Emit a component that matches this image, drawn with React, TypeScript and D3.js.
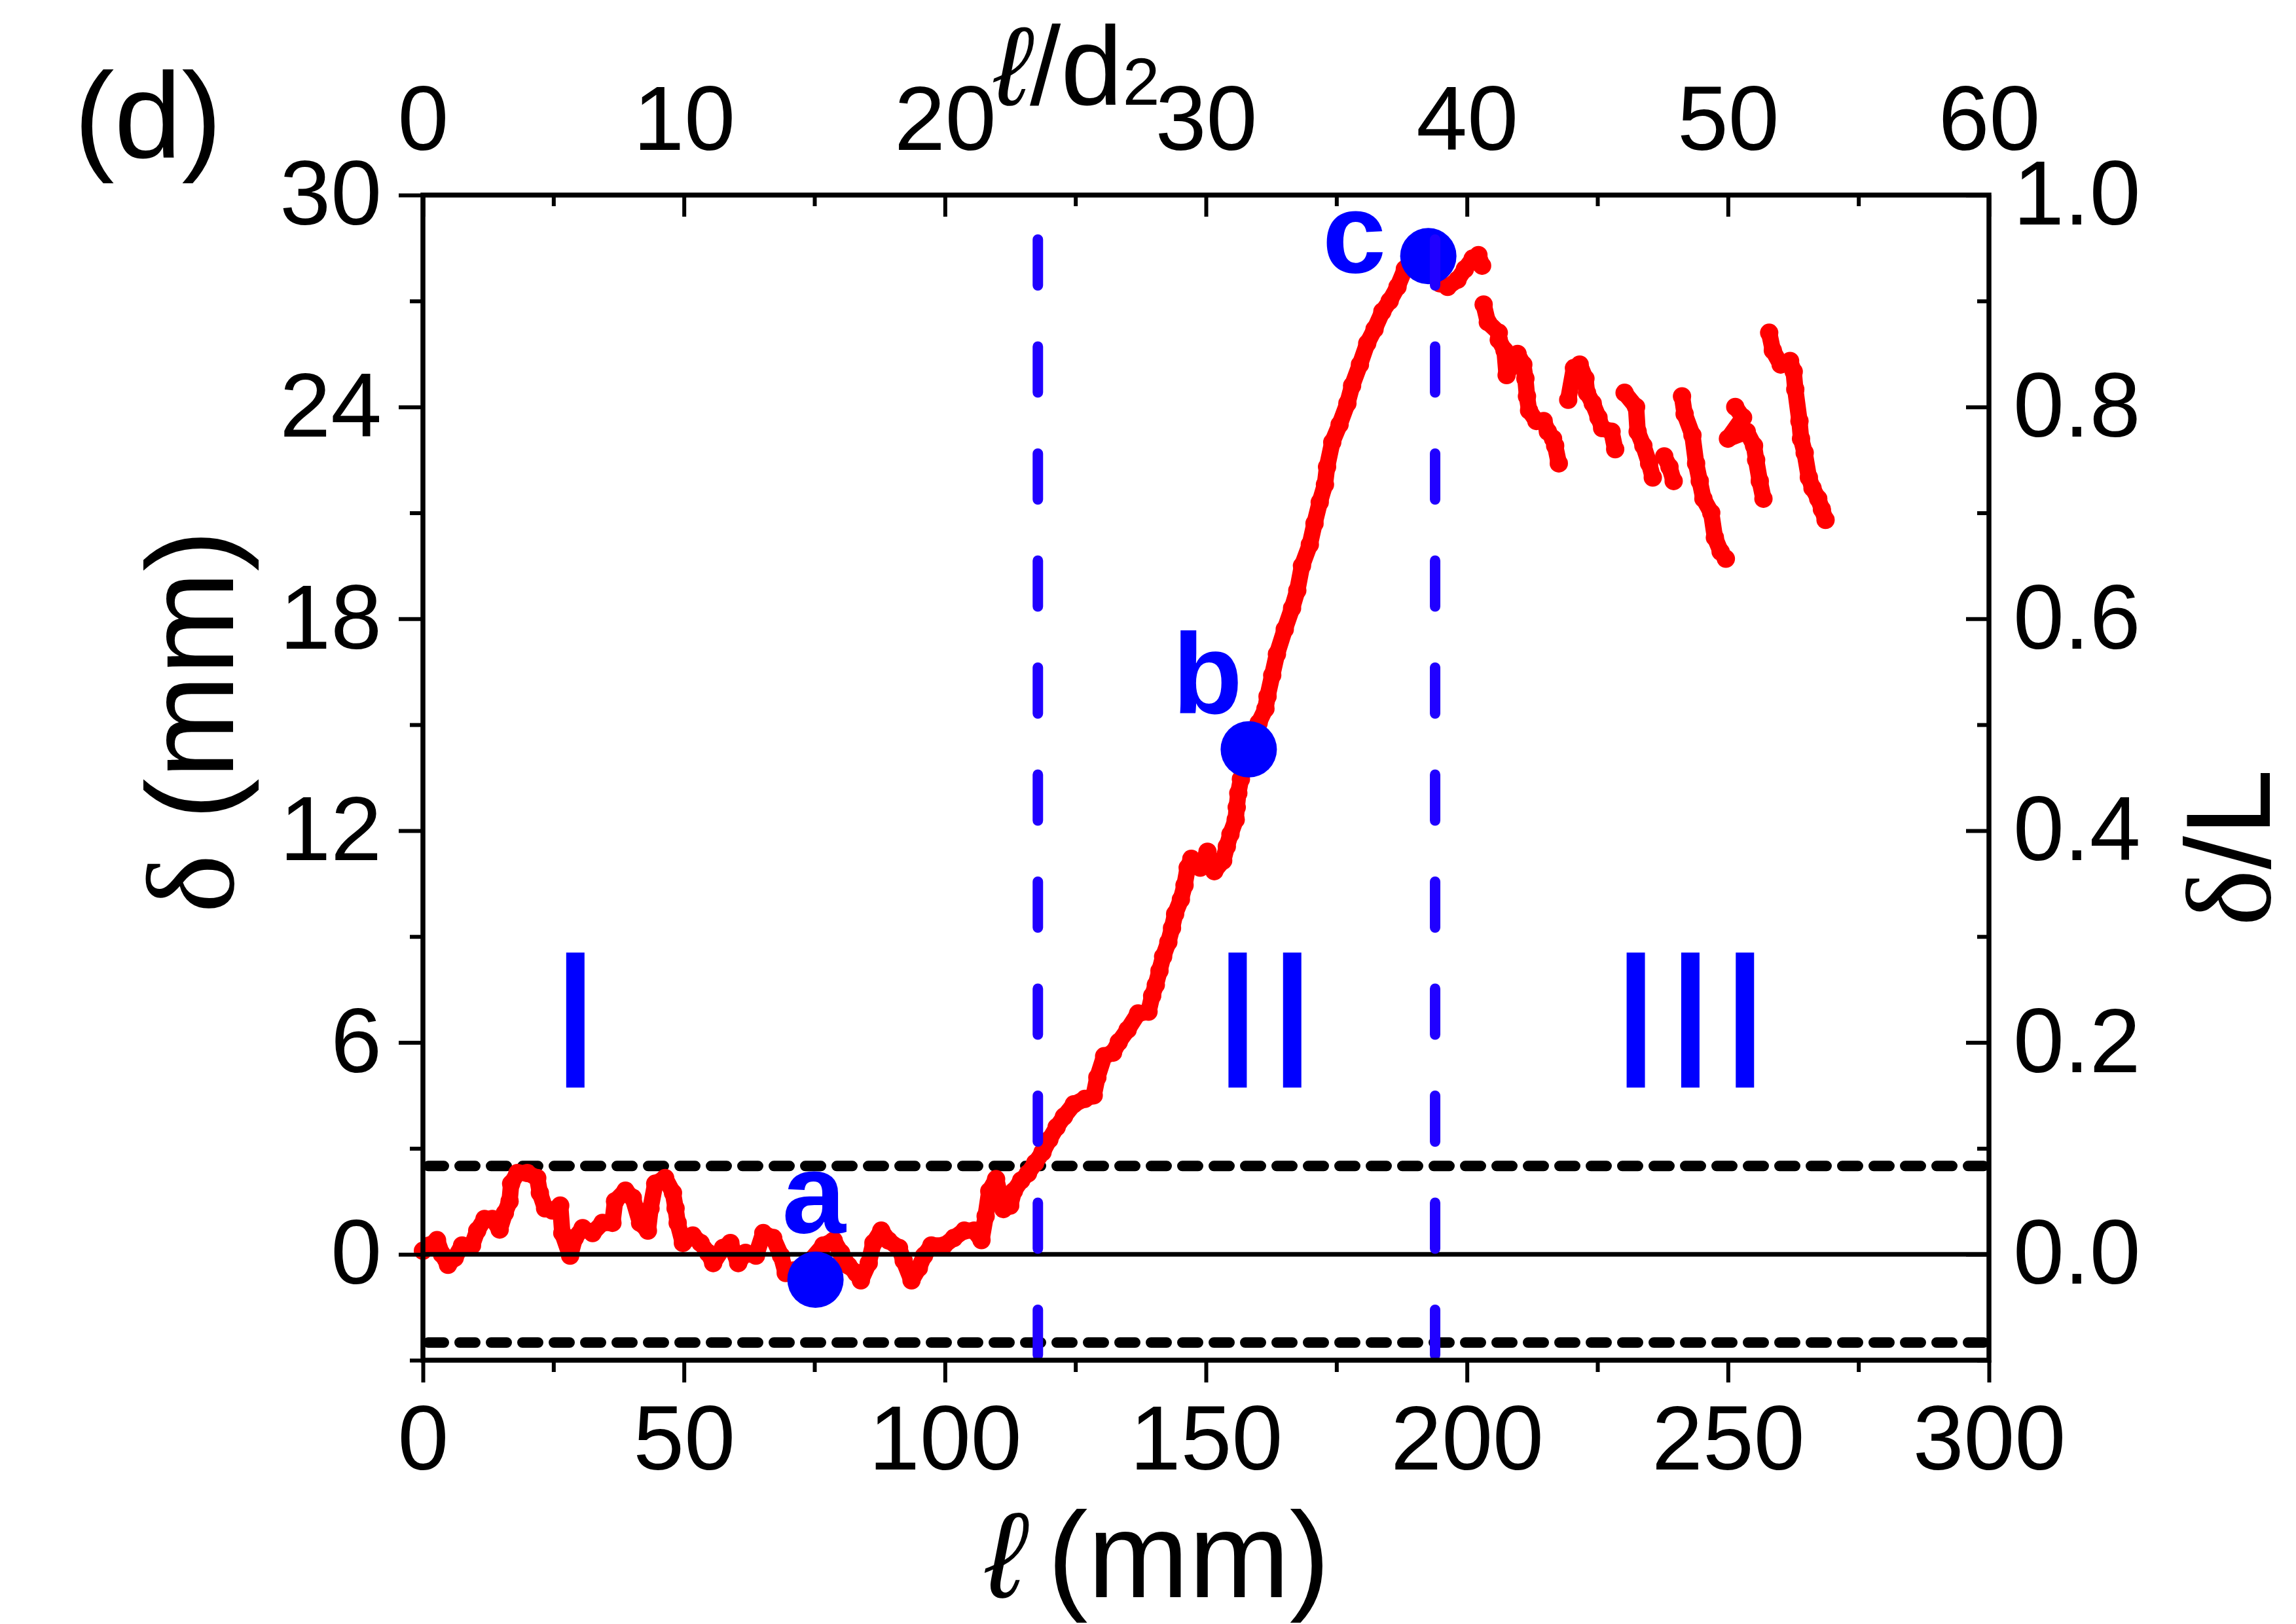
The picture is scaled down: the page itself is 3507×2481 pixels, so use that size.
import { useEffect, useRef } from 'react';
import * as d3 from 'd3';

type Pt = [number, number];

// ℓ (mm) vs δ (mm)
const mainCurve: Pt[] = [
  [0, 0.1], [1.25, 0.25], [2.7, 0.4], [3.65, 0.0], [4.8, -0.3], [6.1, -0.1], [7.5, 0.25], [9.4, 0.25],
  [10.4, 0.67], [11.8, 1.0], [13.3, 1.0], [14.7, 0.7], [15.7, 1.17], [16.6, 1.5], [16.9, 2.0], [18.1, 2.3],
  [20.0, 2.3], [21.9, 2.16], [22.4, 1.74], [23.4, 1.3], [24.8, 1.24], [26.3, 1.38], [26.7, 0.6], [28.2, -0.04],
  [29.1, 0.46], [30.6, 0.74], [32.5, 0.6], [34.4, 0.89], [36.3, 0.89], [36.8, 1.5], [38.8, 1.8], [40.2, 1.6],
  [41.6, 0.89], [43.1, 0.67], [43.6, 1.3], [44.5, 2.0], [46.4, 2.16], [47.9, 1.74], [48.4, 1.3], [48.8, 0.89],
  [49.8, 0.32], [51.7, 0.53], [53.2, 0.32], [54.6, 0.04], [55.6, -0.25], [57.5, 0.18], [58.9, 0.32], [60.4, -0.25],
  [61.8, 0.04], [63.8, -0.04], [65.2, 0.6], [67.1, 0.46], [68.6, -0.04], [69.5, -0.53], [71.0, -0.46], [73.8, -0.25],
  [76.7, 0.25], [78.7, 0.39], [80.1, 0.04], [81.5, -0.32], [83.0, -0.53], [83.9, -0.74], [85.4, -0.25], [86.3, 0.32],
  [87.8, 0.67], [89.2, 0.39], [91.2, 0.18], [92.1, -0.18], [93.6, -0.74], [95.0, -0.39], [96.0, -0.04], [97.4, 0.25],
  [99.8, 0.25], [101.7, 0.46], [103.7, 0.67], [105.6, 0.67], [107.0, 0.4], [107.8, 1.08], [108.5, 1.79], [109.8, 2.13],
  [111.2, 1.28], [112.5, 1.38], [113.2, 1.79], [114.6, 2.09], [115.9, 2.29], [117.3, 2.59], [118.7, 2.89], [120.0, 3.25],
  [121.4, 3.6], [122.8, 3.9], [124.7, 4.25], [126.8, 4.4], [128.5, 4.5], [129.2, 5.01], [130.5, 5.61], [132.2, 5.71],
  [133.3, 6.01], [135.0, 6.36], [137.0, 6.82], [139.0, 6.87], [139.7, 7.32], [140.4, 7.63], [141.1, 8.03], [141.8, 8.43],
  [142.8, 8.84], [143.5, 9.24], [144.1, 9.64], [145.2, 10.05], [145.9, 10.45], [146.5, 10.95], [147.2, 11.2], [148.9, 10.95],
  [150.3, 11.4], [151.6, 10.85], [153.3, 11.15], [154.0, 11.55], [154.7, 11.9], [155.7, 12.31], [155.9, 12.66], [156.2, 13.06],
  [156.7, 13.46], [157.5, 13.9], [159.0, 14.7], [160.1, 15.05], [161.4, 15.45], [161.8, 15.8], [162.7, 16.4], [163.6, 17.0],
  [165.1, 17.7], [166.5, 18.3], [167.5, 18.8], [168.4, 19.5], [169.9, 20.1], [170.8, 20.7], [171.8, 21.3], [172.8, 21.8],
  [173.2, 22.3], [174.2, 23.0], [175.6, 23.5], [177.1, 24.1], [178.0, 24.6], [179.5, 25.2], [180.9, 25.8], [182.3, 26.2],
  [183.8, 26.7], [185.2, 27.0], [186.7, 27.4], [188.1, 27.9], [189.5, 28.2], [191.2, 28.4], [193.5, 27.9], [194.8, 27.5],
  [196.3, 27.4], [198.2, 27.6], [199.6, 27.9], [201.1, 28.2], [202.2, 28.3], [202.9, 28.0],
];

// broken pieces in region III
const segA: Pt[] = [
  [203.2, 26.9], [204.0, 26.4], [206.1, 26.1], [206.1, 25.9], [207.2, 25.6], [207.6, 24.9], [209.7, 25.5], [210.8, 25.2],
  [211.2, 24.8], [211.5, 24.3], [211.9, 23.9], [213.3, 23.6], [214.7, 23.6], [215.5, 23.3], [216.5, 23.1], [216.9, 22.9],
  [217.6, 22.4],
];
const segB: Pt[] = [
  [219.4, 24.2], [220.5, 25.1], [221.6, 25.2], [222.7, 24.8], [223.0, 24.4], [224.1, 24.1], [225.2, 23.7], [225.9, 23.4],
  [227.7, 23.3], [228.4, 22.8],
];
const segC: Pt[] = [[230.2, 24.4], [232.4, 24.0], [232.7, 23.3], [233.8, 22.9], [234.9, 22.4], [235.6, 22.0]];
const segD: Pt[] = [[237.8, 22.6], [238.8, 22.3], [239.6, 21.9]];
const segE: Pt[] = [
  [241.2, 24.3], [241.7, 23.8], [243.2, 23.2], [243.9, 22.4], [244.6, 21.9], [245.3, 21.4], [246.8, 21.0], [247.5, 20.3],
  [248.6, 19.9], [249.6, 19.7],
];
const segF: Pt[] = [[251.4, 24.0], [252.9, 23.7], [250.0, 23.1], [253.6, 23.3], [255.0, 22.9], [255.4, 22.5], [256.1, 21.9], [256.8, 21.4]];
const segG: Pt[] = [
  [257.9, 26.1], [258.6, 25.6], [260.1, 25.2], [261.9, 25.3], [262.6, 25.0], [262.9, 24.5], [263.7, 23.6], [264.0, 23.1],
  [264.7, 22.7], [265.5, 22.0], [266.2, 21.7], [267.3, 21.4], [268.0, 21.1], [268.7, 20.8],
];
const segments: Pt[][] = [mainCurve, segA, segB, segC, segD, segE, segF, segG];

// marked states a, b, c
const markerNames = ['a', 'b', 'c'];
const markerPoints: Pt[] = [[75.2, -0.72], [158.2, 14.3], [192.6, 28.27]];
const markerLabelPos: Pt[] = [[74.9, 0.61], [150.3, 15.31], [178.4, 27.81]];

// regimes
const regimeNames = ['I', 'II', 'III'];
const regimeCenters = [29.2, 161.3, 242.8];
const regimeBaseline = 4.72;

const regimeBounds = [117.8, 193.9];
const threshold = 2.5;

const bottomMajor = [0, 50, 100, 150, 200, 250, 300];
const bottomMinor = [25, 75, 125, 175, 225, 275];
const leftMajor = [0, 6, 12, 18, 24, 30];
const leftMinor = [-3, 3, 9, 15, 21, 27];
const topMajor = [0, 10, 20, 30, 40, 50, 60];
const topMinor = [5, 15, 25, 35, 45, 55];
const rightMajor = [0, 0.2, 0.4, 0.6, 0.8, 1.0];
const rightMinor = [-0.1, 0.1, 0.3, 0.5, 0.7, 0.9];

const SANS = '"Liberation Sans", Arial, sans-serif';
const SERIF = '"Liberation Serif", "Times New Roman", serif';

export default function App() {
  const svgRef = useRef<SVGSVGElement>(null);

  useEffect(() => {
    document.body.style.margin = '0';
    if (!svgRef.current) return;
    const svg = d3.select(svgRef.current);
    svg.selectAll('*').remove();

    const W = 3507;
    const H = 2481;
    const left = 646, right = 3038, top = 298, bottom = 2078;

    const x = d3.scaleLinear().domain([0, 300]).range([left, right]);
    const y = d3.scaleLinear().domain([-3, 30]).range([bottom, top]);
    const xTop = d3.scaleLinear().domain([0, 60]).range([left, right]);
    const yRight = d3.scaleLinear().domain([-0.1, 1.0]).range([bottom, top]);

    svg.attr('width', W).attr('height', H);
    svg.append('rect').attr('width', W).attr('height', H).attr('fill', '#fff');

    // threshold lines ±2.5
    svg.append('g')
      .selectAll('line')
      .data([threshold, -threshold])
      .join('line')
      .attr('x1', left + 8)
      .attr('x2', right)
      .attr('y1', d => y(d))
      .attr('y2', d => y(d))
      .attr('stroke', '#000')
      .attr('stroke-width', 16)
      .attr('stroke-linecap', 'round')
      .attr('stroke-dasharray', '24 24');

    // red data
    const line = d3.line<Pt>().x(d => x(d[0])).y(d => y(d[1]));
    const dataG = svg.append('g');
    dataG.selectAll('path')
      .data(segments)
      .join('path')
      .attr('d', d => line(d))
      .attr('fill', 'none')
      .attr('stroke', '#ff0000')
      .attr('stroke-width', 25)
      .attr('stroke-linecap', 'round')
      .attr('stroke-linejoin', 'round');
    dataG.selectAll('circle')
      .data(segments.flat())
      .join('circle')
      .attr('cx', d => x(d[0]))
      .attr('cy', d => y(d[1]))
      .attr('r', 14)
      .attr('fill', '#ff0000');

    // zero line
    svg.append('line')
      .attr('x1', left).attr('x2', right)
      .attr('y1', y(0)).attr('y2', y(0))
      .attr('stroke', '#000').attr('stroke-width', 7);

    // markers
    svg.append('g')
      .selectAll('circle')
      .data(markerPoints)
      .join('circle')
      .attr('cx', d => x(d[0]))
      .attr('cy', d => y(d[1]))
      .attr('r', 43)
      .attr('fill', '#0000ff');

    // regime boundaries
    svg.append('g')
      .selectAll('line')
      .data(regimeBounds)
      .join('line')
      .attr('x1', d => x(d)).attr('x2', d => x(d))
      .attr('y1', top).attr('y2', bottom - 8)
      .attr('stroke', '#2000ff')
      .attr('stroke-width', 16)
      .attr('stroke-linecap', 'round')
      .attr('stroke-dasharray', '70 93.5')
      .attr('stroke-dashoffset', 95.5);

    // marker labels
    svg.append('g')
      .selectAll('text')
      .data(markerNames)
      .join('text')
      .attr('x', (_, i) => x(markerLabelPos[i][0]))
      .attr('y', (_, i) => y(markerLabelPos[i][1]))
      .attr('text-anchor', 'middle')
      .attr('font-family', SANS)
      .attr('font-weight', 'bold')
      .attr('font-size', 175)
      .attr('fill', '#0000ff')
      .text(d => d);

    // regime numerals
    svg.append('g')
      .selectAll('text')
      .data(regimeNames)
      .join('text')
      .attr('x', (_, i) => x(regimeCenters[i]))
      .attr('y', y(regimeBaseline))
      .attr('text-anchor', 'middle')
      .attr('font-family', SANS)
      .attr('font-size', 300)
      .attr('fill', '#0000ff')
      .text(d => d);

    // frame
    svg.append('rect')
      .attr('x', left).attr('y', top)
      .attr('width', right - left).attr('height', bottom - top)
      .attr('fill', 'none')
      .attr('stroke', '#000')
      .attr('stroke-width', 7.5);

    const styleAxis = (g: d3.Selection<SVGGElement, unknown, null, undefined>) => {
      g.select('.domain').remove();
      g.selectAll('.tick line').attr('stroke', '#000').attr('stroke-width', 6);
      g.selectAll('.tick text').attr('fill', '#000');
      g.attr('font-family', SANS).attr('font-size', 140);
    };

    // bottom
    svg.append('g')
      .attr('transform', `translate(0,${bottom})`)
      .call(d3.axisBottom(x).tickValues(bottomMajor).tickSize(34).tickPadding(34).tickFormat(d3.format('d')))
      .call(styleAxis);
    svg.append('g')
      .attr('transform', `translate(0,${bottom})`)
      .call(d3.axisBottom(x).tickValues(bottomMinor).tickSize(18).tickFormat(() => ''))
      .call(styleAxis);

    // left
    svg.append('g')
      .attr('transform', `translate(${left},0)`)
      .call(d3.axisLeft(y).tickValues(leftMajor).tickSize(37).tickPadding(26).tickFormat(d3.format('d')))
      .call(styleAxis);
    svg.append('g')
      .attr('transform', `translate(${left},0)`)
      .call(d3.axisLeft(y).tickValues(leftMinor).tickSize(20).tickFormat(() => ''))
      .call(styleAxis);

    // top (ℓ/d2), ticks inward
    svg.append('g')
      .attr('transform', `translate(0,${top})`)
      .call(d3.axisTop(xTop).tickValues(topMajor).tickSizeInner(-33).tickSizeOuter(0).tickPadding(69).tickFormat(d3.format('d')))
      .call(styleAxis);
    svg.append('g')
      .attr('transform', `translate(0,${top})`)
      .call(d3.axisTop(xTop).tickValues(topMinor).tickSizeInner(-17).tickSizeOuter(0).tickFormat(() => ''))
      .call(styleAxis);

    // right (δ/L), ticks inward
    svg.append('g')
      .attr('transform', `translate(${right},0)`)
      .call(d3.axisRight(yRight).tickValues(rightMajor).tickSizeInner(-35).tickSizeOuter(0).tickPadding(37).tickFormat(d3.format('.1f')))
      .call(styleAxis);
    svg.append('g')
      .attr('transform', `translate(${right},0)`)
      .call(d3.axisRight(yRight).tickValues(rightMinor).tickSizeInner(-18).tickSizeOuter(0).tickFormat(() => ''))
      .call(styleAxis);

    // panel tag
    svg.append('text')
      .attr('x', 113).attr('y', 241)
      .attr('font-family', SANS).attr('font-size', 185)
      .text('(d)');

    // bottom title
    const bt = svg.append('text')
      .attr('y', 2440)
      .attr('font-family', SANS).attr('font-size', 185);
    bt.append('tspan').attr('x', 1505).attr('font-style', 'italic').text('ℓ');
    bt.append('tspan').attr('x', 1600).text('(mm)');

    // top title
    const tt = svg.append('text')
      .attr('x', 1518).attr('y', 160)
      .attr('font-family', SANS).attr('font-size', 170);
    tt.append('tspan').attr('font-style', 'italic').text('ℓ');
    tt.append('tspan').text('/d');
    tt.append('tspan').attr('font-size', 102).text('2');

    // left title
    const lt = svg.append('text')
      .attr('transform', 'translate(356,1395) rotate(-90)')
      .attr('font-family', SANS).attr('font-size', 190);
    lt.append('tspan').attr('font-family', SERIF).text('δ');
    lt.append('tspan').text(' (mm)');

    // right title
    const rt = svg.append('text')
      .attr('transform', 'translate(3467,1415) rotate(-90)')
      .attr('font-family', SANS).attr('font-size', 184);
    rt.append('tspan').attr('font-family', SERIF).text('δ');
    rt.append('tspan').text('/L');
  }, []);

  return <svg ref={svgRef} style={{ display: 'block' }} />;
}
